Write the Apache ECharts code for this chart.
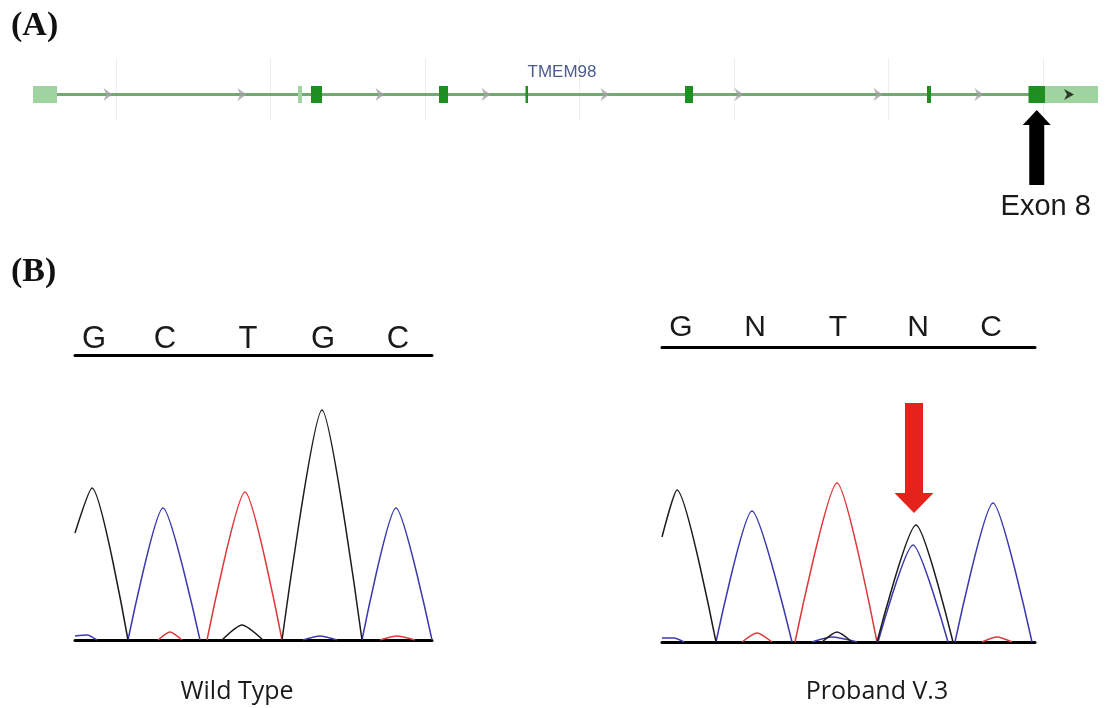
<!DOCTYPE html>
<html><head><meta charset="utf-8">
<script src="https://cdn.jsdelivr.net/npm/echarts@6/dist/echarts.min.js"></script>
<style>html,body{margin:0;padding:0;background:#fff}#c{width:1108px;height:708px}</style>
</head><body><div id="c"></div>
<script>
// ---------- Panel A: gene model (track coordinate units) ----------
const utrExons = [[33, 57], [298, 302], [1045, 1098]];
const cdsExons = [[311, 322], [439, 448], [525.5, 528], [685, 693], [927, 931], [1028.5, 1045]];
const intronChevrons = [108, 242, 380, 486, 605, 739, 878, 979];
const strandChevron = [1069];
const geneName = 'TMEM98';
const geneNameAt = [562];
const markedExonLabel = 'Exon 8';

// ---------- Panel B: chromatograms (scan position, signal) ----------
const wtBases = ['G', 'C', 'T', 'G', 'C'];
const wtBaseAt = [19, 90, 173, 248, 323];
const wtBlack = [[[0, 107], [17, 152], [53, 0]], [[147, 0], [167, 15], [188, 0]], [[207, 0], [247, 230], [287, 0]]];
const wtBlue = [[[0, 4], [12, 5], [22, 0]], [[53, 0], [88, 132], [125, 0]], [[228, 0], [245, 4], [262, 0]], [[287, 0], [321, 132], [357, 0]]];
const wtRed = [[[83, 0], [95, 8], [107, 0]], [[132, 0], [170, 148], [207, 0]], [[305, 0], [322, 4], [340, 0]]];

const pbBases = ['G', 'N', 'T', 'N', 'C'];
const pbBaseAt = [19, 93, 176, 256, 329];
const pbBlack = [[[0, 105], [15, 152], [54, 0]], [[160, 0], [175, 10], [190, 0]], [[215, 0], [254, 117], [291, 0]]];
const pbBlue = [[[0, 4], [12, 4], [22, 0]], [[54, 0], [90, 131], [130, 0]], [[150, 0], [170, 5], [195, 0]], [[216, 0], [251, 97], [286, 0]], [[293, 0], [331, 139], [370, 0]]];
const pbRed = [[[80, 0], [95, 9], [110, 0]], [[133, 0], [175, 159], [215, 0]], [[320, 0], [335, 5], [350, 0]]];
const variantSite = [[251, 117]];

const sampleLabels = ['Wild Type', 'Proband V.3'];

// ---------- styles ----------
const C_BLACK = '#1c1c1c', C_BLUE = '#3a3aae', C_RED = '#dc3a3a';
const WT_W = 357, WT_H = 285, PB_W = 373, PB_H = 295;

const chart = echarts.init(document.getElementById('c'), null, { renderer: 'canvas' });

function traceSeries(segments, color, xi, yi) {
  return segments.map(seg => ({
    type: 'line', xAxisIndex: xi, yAxisIndex: yi, data: seg, smooth: 0.22,
    showSymbol: false, symbol: 'none', silent: true, z: 3,
    lineStyle: { color: color, width: 1.5 }
  }));
}
function lettersSeries(bases, at, xi, yi, yMax, lift, size) {
  return {
    type: 'custom', xAxisIndex: xi, yAxisIndex: yi, silent: true,
    data: at.map((x, i) => [x, i]),
    renderItem: (p, api) => {
      const c = api.coord([api.value(0), yMax]);
      return { type: 'text', x: c[0], y: c[1] - lift,
        style: { text: bases[api.value(1)], fill: '#1a1a1a', font: size + 'px "Liberation Sans", Arial, sans-serif', align: 'center', verticalAlign: 'middle' } };
    }
  };
}
function exonSeries(list, color) {
  return {
    type: 'custom', xAxisIndex: 0, yAxisIndex: 0, silent: true, z: 4,
    data: list,
    renderItem: (p, api) => {
      const s = api.coord([api.value(0), 1]);
      const e = api.coord([api.value(1), 0]);
      return { type: 'rect', shape: { x: s[0], y: s[1], width: Math.max(e[0] - s[0], 2), height: e[1] - s[1] }, style: { fill: color } };
    }
  };
}
const chevron = 'path://M0,0 L10,6 L0,12 L3,6 Z';
const lastExon = cdsExons[cdsExons.length - 1];
const geneStart = utrExons[0][0], geneEnd = utrExons[utrExons.length - 1][1];

function chromAxes(gi, w) {
  const line = { show: true, onZero: false, lineStyle: { color: '#000', width: 3 } };
  return [
    { gridIndex: gi, type: 'value', min: 0, max: w, position: 'bottom', axisLine: line, axisTick: { show: false }, axisLabel: { show: false }, splitLine: { show: false } },
    { gridIndex: gi, type: 'value', min: 0, max: w, position: 'top', axisLine: line, axisTick: { show: false }, axisLabel: { show: false }, splitLine: { show: false } }
  ];
}

const option = {
  backgroundColor: '#ffffff',
  animation: false,
  grid: [
    { left: 0, top: 86, width: 1108, height: 17 },
    { left: 75, top: 355, width: WT_W, height: WT_H },
    { left: 662, top: 347, width: PB_W, height: PB_H },
    { left: 116, top: 58, width: 927, height: 62 }
  ],
  xAxis: [
    { gridIndex: 0, type: 'value', min: 0, max: 1108, show: false },
    ...chromAxes(1, WT_W),
    ...chromAxes(2, PB_W),
    { gridIndex: 3, type: 'value', min: 0, max: 6, interval: 1, axisLine: { show: false }, axisTick: { show: false }, axisLabel: { show: false },
      splitLine: { show: true, lineStyle: { color: '#eeeeee', width: 1 } } }
  ],
  yAxis: [
    { gridIndex: 0, type: 'value', min: 0, max: 1, show: false },
    { gridIndex: 1, type: 'value', min: 0, max: WT_H, show: false },
    { gridIndex: 2, type: 'value', min: 0, max: PB_H, show: false },
    { gridIndex: 3, type: 'value', min: 0, max: 1, show: false }
  ],
  graphic: [
    { type: 'text', left: 11, top: 9, style: { text: '(A)', fill: '#111', font: 'bold 34px "Liberation Serif", "Times New Roman", serif' } },
    { type: 'text', left: 11, top: 255, style: { text: '(B)', fill: '#111', font: 'bold 34px "Liberation Serif", "Times New Roman", serif' } },
    { type: 'text', x: 237, y: 692, style: { text: sampleLabels[0], fill: '#1a1a1a', font: '25px "Open Sans", sans-serif', align: 'center', verticalAlign: 'middle' } },
    { type: 'text', x: 877, y: 692, style: { text: sampleLabels[1], fill: '#1a1a1a', font: '25px "Open Sans", sans-serif', align: 'center', verticalAlign: 'middle' } }
  ],
  series: [
    // intron backbone
    { type: 'line', xAxisIndex: 0, yAxisIndex: 0, data: [[geneStart, 0.5], [geneEnd, 0.5]], symbol: 'none', silent: true, z: 1,
      lineStyle: { color: '#72a872', width: 3 } },
    { type: 'scatter', xAxisIndex: 0, yAxisIndex: 0, data: intronChevrons.map(x => [x, 0.5]), symbol: chevron, symbolSize: [9, 13],
      itemStyle: { color: '#a2a2a2' }, silent: true, z: 2 },
    exonSeries(utrExons, '#9fd39f'),
    exonSeries(cdsExons, '#1f8f22'),
    { type: 'scatter', xAxisIndex: 0, yAxisIndex: 0, data: strandChevron.map(x => [x, 0.5]), symbol: chevron, symbolSize: [10, 11],
      itemStyle: { color: '#111' }, silent: true, z: 6 },
    { type: 'custom', xAxisIndex: 0, yAxisIndex: 0, silent: true, z: 6, data: geneNameAt.map(x => [x, 1]),
      renderItem: (p, api) => {
        const c = api.coord([api.value(0), 1]);
        return { type: 'text', x: c[0], y: c[1] - 14, style: { text: geneName, fill: '#4b5b8e',
          font: '17px "Liberation Sans Narrow", "Liberation Sans", Arial, sans-serif', align: 'center', verticalAlign: 'middle' } };
      } },
    // arrow to marked exon
    { type: 'custom', xAxisIndex: 0, yAxisIndex: 0, silent: true, z: 6, data: [[(lastExon[0] + lastExon[1]) / 2, 0]],
      renderItem: (p, api) => {
        const c = api.coord([api.value(0), 0]);
        const x = c[0], tip = c[1] + 7, hb = tip + 15, se = tip + 75;
        return { type: 'group', children: [
          { type: 'polygon', shape: { points: [[x, tip], [x + 14, hb], [x + 7.5, hb], [x + 7.5, se], [x - 7.5, se], [x - 7.5, hb], [x - 14, hb]] }, style: { fill: '#000' } },
          { type: 'text', x: x + 9, y: tip + 97, style: { text: markedExonLabel, fill: '#1a1a1a', font: '29px "Liberation Sans", Arial, sans-serif', align: 'center', verticalAlign: 'middle' } }
        ] };
      } },
    // chromatograms
    ...traceSeries(wtRed, C_RED, 1, 1),
    ...traceSeries(wtBlue, C_BLUE, 1, 1),
    ...traceSeries(wtBlack, C_BLACK, 1, 1),
    ...traceSeries(pbRed, C_RED, 3, 2),
    ...traceSeries(pbBlue, C_BLUE, 3, 2),
    ...traceSeries(pbBlack, C_BLACK, 3, 2),
    lettersSeries(wtBases, wtBaseAt, 1, 1, WT_H, 16, 31),
    lettersSeries(pbBases, pbBaseAt, 3, 2, PB_H, 19, 30),
    // red arrow marking the variant
    { type: 'custom', xAxisIndex: 3, yAxisIndex: 2, silent: true, z: 8, data: variantSite,
      renderItem: (p, api) => {
        const c = api.coord([api.value(0), api.value(1)]);
        const x = c[0] + 1, tip = c[1] - 12, hb = tip - 20, st = tip - 110;
        return { type: 'polygon', shape: { points: [[x, tip], [x + 19.5, hb], [x + 9, hb], [x + 9, st], [x - 9, st], [x - 9, hb], [x - 19.5, hb]] }, style: { fill: '#e4231c' } };
      } }
  ]
};
chart.setOption(option);
</script></body></html>
